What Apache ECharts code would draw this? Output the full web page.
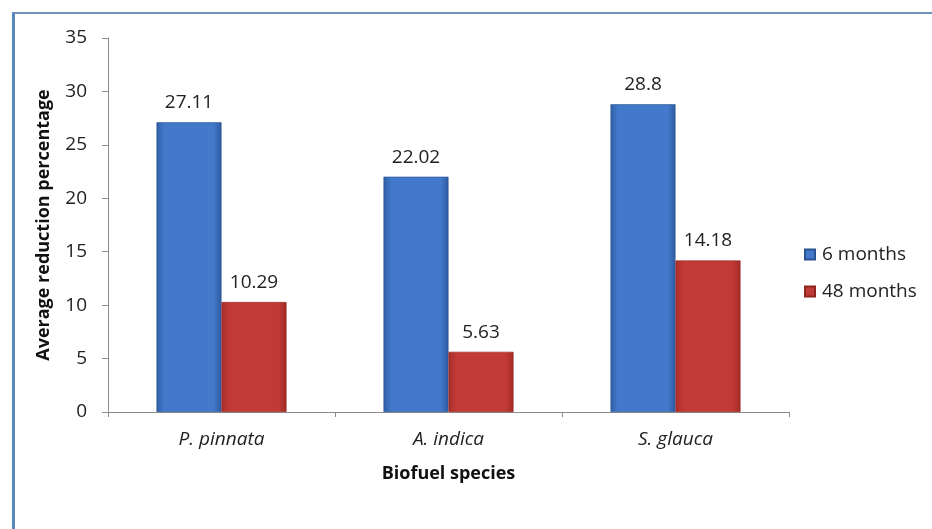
<!DOCTYPE html>
<html>
<head>
<meta charset="utf-8">
<script src="https://cdn.jsdelivr.net/npm/echarts@6/dist/echarts.min.js"></script>
<style>
  html, body { margin: 0; padding: 0; background: #fff; }
  #frame {
    position: absolute; left: 12px; top: 12px; width: 920px; height: 515px;
    border-left: 3px solid #5b87ba; border-top: 2px solid #6f93bd;
    border-bottom: 2px solid #eaf6fb;
  }
  #container { position: absolute; left: 0; top: 0; width: 932px; height: 529px; }
</style>
</head>
<body>
<div id="frame"></div>
<div id="container"></div>
<script>
// 数据
var categories = ['P. pinnata', 'A. indica', 'S. glauca'];
var seriesNames = ['6 months', '48 months'];
var months6 = [27.11, 22.02, 28.8];
var months48 = [10.29, 5.63, 14.18];
var yTicks = { min: 0, max: 35, interval: 5 };

var fontName = 'Open Sans';

var blueFill = new echarts.graphic.LinearGradient(0, 0, 1, 0, [
  { offset: 0, color: '#2f5fa6' },
  { offset: 0.12, color: '#4279cb' },
  { offset: 0.88, color: '#4279cb' },
  { offset: 1, color: '#2d5a9e' }
]);
var redFill = new echarts.graphic.LinearGradient(0, 0, 1, 0, [
  { offset: 0, color: '#a82d28' },
  { offset: 0.12, color: '#c23a35' },
  { offset: 0.88, color: '#c23a35' },
  { offset: 1, color: '#a22a25' }
]);

var barLabel = {
  show: true,
  position: 'top',
  distance: 10,
  color: '#222',
  fontFamily: fontName,
  fontSize: 19
};

var charts = echarts.init(document.getElementById('container'));
charts.setOption({
  animation: false,
  textStyle: { fontFamily: fontName },
  grid: { left: 108, right: 143, top: 38, bottom: 117 },
  legend: {
    orient: 'vertical',
    left: 799,
    top: 240,
    itemGap: 18,
    itemWidth: 10,
    itemHeight: 10,
    icon: 'rect',
    data: seriesNames,
    textStyle: { color: '#222', fontSize: 19, fontFamily: fontName, padding: [0, 0, 0, 2] }
  },
  xAxis: {
    type: 'category',
    data: categories,
    name: 'Biofuel species',
    nameLocation: 'middle',
    nameGap: 53,
    nameTextStyle: { color: '#111', fontWeight: 'bold', fontSize: 18, fontFamily: fontName },
    axisLine: { lineStyle: { color: '#8c8c8c', width: 1 } },
    axisTick: { show: true, length: 5, alignWithLabel: false, lineStyle: { color: '#8c8c8c' } },
    axisLabel: { color: '#222', fontStyle: 'italic', fontSize: 19, margin: 18, fontFamily: fontName }
  },
  yAxis: {
    type: 'value',
    min: yTicks.min,
    max: yTicks.max,
    interval: yTicks.interval,
    name: 'Average reduction percentage',
    nameLocation: 'middle',
    nameGap: 55,
    nameTextStyle: { color: '#111', fontWeight: 'bold', fontSize: 18, fontFamily: fontName },
    axisLine: { show: true, lineStyle: { color: '#8c8c8c', width: 1 } },
    axisTick: { show: true, length: 6, lineStyle: { color: '#8c8c8c' } },
    splitLine: { show: false },
    axisLabel: { color: '#222', fontSize: 19, margin: 21, fontFamily: fontName }
  },
  series: [{
    name: seriesNames[0],
    type: 'bar',
    data: months6,
    barWidth: 65,
    barGap: '0%',
    itemStyle: { color: blueFill, borderColor: '#2a5290', borderWidth: 0.6 },
    label: barLabel
  }, {
    name: seriesNames[1],
    type: 'bar',
    data: months48,
    barWidth: 65,
    barGap: '0%',
    itemStyle: { color: redFill, borderColor: '#8e2420', borderWidth: 0.6 },
    label: barLabel
  }]
});
</script>
</body>
</html>
